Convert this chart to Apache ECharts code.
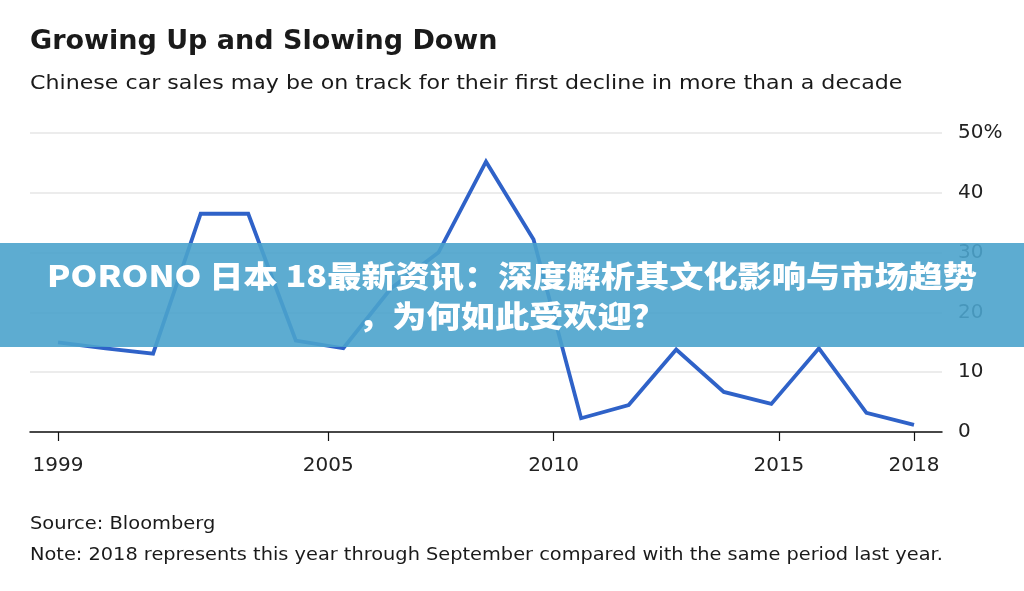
<!DOCTYPE html>
<html>
<head>
<meta charset="utf-8">
<script src="https://cdn.jsdelivr.net/npm/echarts@6/dist/echarts.min.js"></script>
<style>
html,body{margin:0;padding:0;background:#fff;}
#chart{width:1024px;height:591px;}
</style>
</head>
<body>
<div id="chart"></div>
<script>
// ---- data ----
var dataYears = ['2000','2001','2002','2003','2004','2005','2006','2007','2008','2009','2010','2011','2012','2013','2014','2015','2016','2017','2018'];
var salesGrowth = [15.0, 14.0, 13.1, 36.5, 36.5, 15.3, 14.0, 24.0, 30.0, 45.2, 32.2, 2.3, 4.5, 13.8, 6.7, 4.7, 14.0, 3.2, 1.2];
var xTickYears = [1999, 2005, 2010, 2015, 2018];
var yTicks = [0, 10, 20, 30, 40, 50];
var titleText = 'Growing Up and Slowing Down';
var subtitleText = 'Chinese car sales may be on track for their first decline in more than a decade';
var sourceText = 'Source: Bloomberg';
var noteText = 'Note: 2018 represents this year through September compared with the same period last year.';
var bannerText = 'PORONO 日本 18最新资讯：深度解析其文化影响与市场趋势\n，为何如此受欢迎？';

var FONT = '"DejaVu Sans", "Liberation Sans", sans-serif';
var chart = echarts.init(document.getElementById('chart'), null, {renderer: 'canvas'});

var option = {
  backgroundColor: '#ffffff',
  animation: false,
  grid: [
    {left: 30, right: 82, top: 133, bottom: 159},
    {left: 58, right: 110, top: 133, bottom: 159}
  ],
  xAxis: [
    {
      gridIndex: 0, type: 'value',
      min: 1998.38, max: 2018.62,
      axisLine: {show: true, lineStyle: {color: '#111', width: 1.5}},
      axisTick: {show: true, length: 9, customValues: xTickYears, lineStyle: {color: '#111', width: 1.2}},
      axisLabel: {customValues: xTickYears, margin: 24, fontFamily: FONT, fontSize: 20, color: '#222',
        formatter: function (v) { return String(v); }},
      splitLine: {show: false}
    },
    {
      gridIndex: 1, type: 'category', data: dataYears, boundaryGap: false,
      show: false
    }
  ],
  yAxis: [
    {
      gridIndex: 0, type: 'value', position: 'right',
      min: yTicks[0], max: yTicks[yTicks.length - 1], interval: 10,
      axisLine: {show: false}, axisTick: {show: false},
      axisLabel: {margin: 16, fontFamily: FONT, fontSize: 20, color: '#222', align: 'left',
        formatter: function (v) { return v === 50 ? v + '%' : String(v); }},
      splitLine: {show: true, lineStyle: {color: '#e6e6e6', width: 1.5}}
    },
    {
      gridIndex: 1, type: 'value', min: yTicks[0], max: yTicks[yTicks.length - 1], show: false
    }
  ],
  series: [
    {
      type: 'line', xAxisIndex: 1, yAxisIndex: 1,
      data: salesGrowth,
      symbol: 'none',
      lineStyle: {color: '#2f62c8', width: 3.8, join: 'miter'},
      z: 3
    }
  ],
  graphic: [
    {type: 'text', x: 30, y: 42, style: {text: titleText, font: 'bold 27px ' + FONT, fill: '#1a1a1a', textVerticalAlign: 'middle'}},
    {type: 'text', x: 30, y: 84, scaleX: 1.135, style: {text: subtitleText, font: '19.5px ' + FONT, fill: '#1a1a1a', textVerticalAlign: 'middle'}},
    {type: 'text', x: 30, y: 524, scaleX: 1.08, style: {text: sourceText, font: '18px ' + FONT, fill: '#1a1a1a', textVerticalAlign: 'middle'}},
    {type: 'text', x: 30, y: 555, scaleX: 1.075, style: {text: noteText, font: '18px ' + FONT, fill: '#1a1a1a', textVerticalAlign: 'middle'}},
    {type: 'rect', x: 0, y: 243, z: 100, shape: {width: 1024, height: 104}, style: {fill: 'rgba(75,163,204,0.9)'}},
    {type: 'text', x: 512, y: 296, z: 101, scaleX: 1.14,
      style: {text: bannerText, font: '900 30px "Noto Sans CJK SC", sans-serif', fill: '#ffffff',
        textAlign: 'center', textVerticalAlign: 'middle', lineHeight: 40}}
  ]
};
chart.setOption(option);
</script>
</body>
</html>
